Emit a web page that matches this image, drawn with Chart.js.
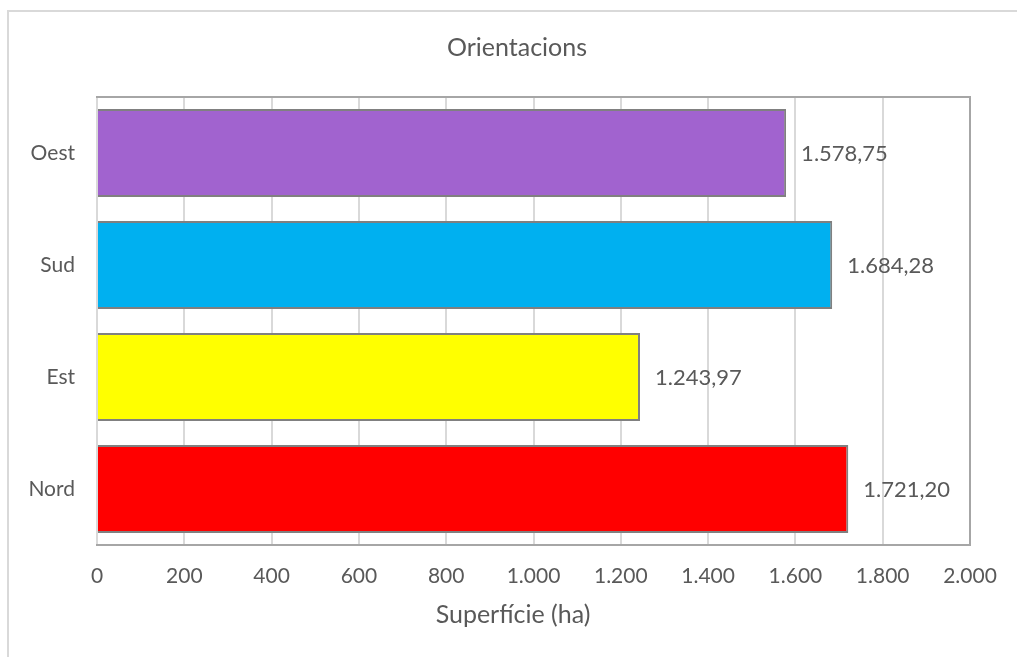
<!DOCTYPE html>
<html>
<head>
<meta charset="utf-8">
<script src="https://cdn.jsdelivr.net/npm/chart.js@4/dist/chart.umd.min.js"></script>
<style>
  html, body { margin: 0; padding: 0; background: #ffffff; }
  canvas { display: block; }
</style>
</head>
<body>
<canvas id="chart" width="1017" height="657"></canvas>
<script>
// Superfície per orientació (ha)
const categories = ['Oest', 'Sud', 'Est', 'Nord'];
const surfaceHa = [1578.75, 1684.28, 1243.97, 1721.20];
const barColors = ['#A163CF', '#00B0F0', '#FFFF00', '#FF0000'];
const xTicks = [0, 200, 400, 600, 800, 1000, 1200, 1400, 1600, 1800, 2000];
const chartTitle = 'Orientacions';
const xAxisTitle = 'Superfície (ha)';

const TEXT = '#595959';
const FONT = 'Lato, "Open Sans", sans-serif';

// Catalan number format: dot for thousands, comma for decimals
function formatCa(v, decimals) {
  const fixed = v.toFixed(decimals);
  const parts = fixed.split('.');
  const intPart = parts[0].replace(/\B(?=(\d{3})+(?!\d))/g, '.');
  return parts.length > 1 ? intPart + ',' + parts[1] : intPart;
}

// Light frame around the whole chart, and the chart title
const outerFrame = {
  id: 'outerFrame',
  beforeDraw(chart) {
    const ctx = chart.ctx;
    ctx.save();
    ctx.strokeStyle = '#d9d9d9';
    ctx.lineWidth = 2;
    ctx.beginPath();
    ctx.moveTo(8, chart.height);
    ctx.lineTo(8, 11);
    ctx.lineTo(chart.width, 11);
    ctx.stroke();
    ctx.font = '25px ' + FONT;
    ctx.fillStyle = TEXT;
    ctx.textAlign = 'center';
    ctx.textBaseline = 'middle';
    ctx.fillText(chartTitle, 517, 48);
    ctx.restore();
  }
};

// Plot area border (top, right, bottom); the left edge is the 0 gridline
const plotBorder = {
  id: 'plotBorder',
  beforeDatasetsDraw(chart) {
    const a = chart.chartArea;
    const ctx = chart.ctx;
    ctx.save();
    ctx.strokeStyle = '#a6a6a6';
    ctx.lineWidth = 2;
    ctx.beginPath();
    ctx.moveTo(a.left - 1, a.top);
    ctx.lineTo(a.right, a.top);
    ctx.lineTo(a.right, a.bottom);
    ctx.lineTo(a.left - 1, a.bottom);
    ctx.stroke();
    ctx.restore();
  }
};

// Value labels to the right of each bar, plus the horizontal axis title
const valueLabels = {
  id: 'valueLabels',
  afterDatasetsDraw(chart) {
    const ctx = chart.ctx;
    const meta = chart.getDatasetMeta(0);
    ctx.save();
    ctx.font = '22px ' + FONT;
    ctx.fillStyle = TEXT;
    ctx.textAlign = 'left';
    ctx.textBaseline = 'middle';
    meta.data.forEach((bar, i) => {
      ctx.fillText(formatCa(surfaceHa[i], 2), bar.x + 15, bar.y + 1);
    });
    ctx.font = '25px ' + FONT;
    ctx.textAlign = 'center';
    ctx.fillText(xAxisTitle, 513, 615);
    ctx.restore();
  }
};

new Chart(document.getElementById('chart'), {
  type: 'bar',
  data: {
    labels: categories,
    datasets: [{
      data: surfaceHa,
      backgroundColor: barColors,
      borderColor: '#808080',
      borderWidth: 2,
      borderSkipped: 'start',
      barPercentage: 0.787,
      categoryPercentage: 1.0
    }]
  },
  options: {
    indexAxis: 'y',
    responsive: false,
    animation: false,
    devicePixelRatio: 1,
    layout: { padding: { top: 97, left: 0, right: 47, bottom: 0 } },
    plugins: {
      legend: { display: false },
      tooltip: { enabled: false },
      title: { display: false }
    },
    scales: {
      x: {
        type: 'linear',
        min: 0,
        max: 2000,
        afterBuildTicks(scale) {
          scale.ticks = xTicks.map(v => ({ value: v }));
        },
        afterFit(scale) { scale.height = 112; },
        grid: { color: '#d9d9d9', lineWidth: 2, drawTicks: false },
        border: { display: false },
        ticks: {
          color: TEXT,
          font: { family: FONT, size: 21 },
          padding: 19,
          maxRotation: 0,
          callback: v => formatCa(v, 0)
        }
      },
      y: {
        afterFit(scale) { scale.width = 97; },
        grid: { display: false, drawTicks: false },
        border: { display: false },
        ticks: {
          color: TEXT,
          font: { family: FONT, size: 21 },
          padding: 22
        }
      }
    }
  },
  plugins: [outerFrame, plotBorder, valueLabels]
});
</script>
</body>
</html>
